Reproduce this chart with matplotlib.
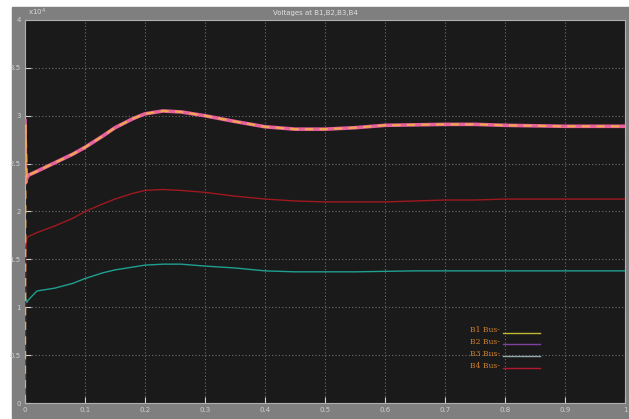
import matplotlib
matplotlib.use("Agg")
import matplotlib.pyplot as plt
from matplotlib.patches import Rectangle

# time (s) and bus voltages (x10^4)
t = [0, 0.001, 0.003, 0.006, 0.02, 0.05, 0.08, 0.1, 0.13, 0.15, 0.18, 0.2, 0.23,
     0.26, 0.3, 0.35, 0.4, 0.45, 0.5, 0.55, 0.6, 0.65, 0.7, 0.75, 0.8, 0.9, 1.0]
b1 = [0, 2.9, 2.35, 2.38, 2.42, 2.51, 2.6, 2.67, 2.79, 2.875, 2.97, 3.02, 3.05,
      3.04, 3.0, 2.94, 2.885, 2.86, 2.86, 2.875, 2.9, 2.905, 2.91, 2.91, 2.9, 2.89, 2.89]
b2 = [2.95, 2.3, 2.35, 2.38, 2.42, 2.51, 2.6, 2.67, 2.79, 2.875, 2.97, 3.02, 3.05,
      3.04, 3.0, 2.94, 2.885, 2.86, 2.86, 2.875, 2.9, 2.905, 2.91, 2.91, 2.9, 2.89, 2.89]
b3 = [1.3, 1.1, 1.05, 1.08, 1.17, 1.2, 1.25, 1.3, 1.36, 1.39, 1.42, 1.44, 1.45,
      1.45, 1.43, 1.41, 1.38, 1.37, 1.37, 1.37, 1.375, 1.38, 1.38, 1.38, 1.38, 1.38, 1.38]
b4 = [0, 1.6, 1.72, 1.74, 1.78, 1.85, 1.93, 2.0, 2.08, 2.13, 2.19, 2.22, 2.23,
      2.22, 2.2, 2.16, 2.13, 2.11, 2.1, 2.1, 2.1, 2.11, 2.12, 2.12, 2.13, 2.13, 2.13]
labels = ["B1 Bus-", "B2 Bus-", "B3 Bus-", "B4 Bus-"]

fig = plt.figure(figsize=(6.29, 4.19), dpi=100, facecolor="white")
fig.patches.append(Rectangle((12 / 629, 0), 617 / 629, 412 / 419,
                             transform=fig.transFigure, color="#7f7f7f", zorder=-10))

ax = fig.add_axes([25 / 629, 16 / 419, 600 / 629, 383 / 419])
ax.set_zorder(5)
ax.set_facecolor("#1a1a1a")

ax.plot(t, b2, color="#e8609c", lw=2.6, zorder=3)
ax.plot(t, b1, color="#f0a850", lw=1.5, ls=(0, (4, 3)), zorder=4)
ax.plot(t, b3, color="#20a090", lw=1.0, zorder=3)
ax.plot(t, b4, color="#a01820", lw=1.0, zorder=3)

ax.set_xlim(0, 1)
ax.set_ylim(0, 4)
ax.set_xticks([0, 0.1, 0.2, 0.3, 0.4, 0.5, 0.6, 0.7, 0.8, 0.9, 1])
ax.set_xticklabels(["0", "0.1", "0.2", "0.3", "0.4", "0.5", "0.6", "0.7", "0.8", "0.9", "1"])
ax.set_yticks([0, 0.5, 1, 1.5, 2, 2.5, 3, 3.5, 4])
ax.set_yticklabels(["0", "0.5", "1", "1.5", "2", "2.5", "3", "3.5", "4"])
ax.grid(True, color="#6e6e6e", ls=(0, (1, 2)), lw=0.8)
ax.tick_params(colors="#d0d0d0", labelsize=5, direction="in", length=4, pad=3)
for s in ax.spines.values():
    s.set_color("#b0b0b0")
    s.set_linewidth(0.8)

fig.text(28 / 629, 1 - 12 / 419, r"x10$^4$", color="#d8d8d8", fontsize=5, va="center")
fig.text(315 / 629, 1 - 13 / 419, "Voltages at B1,B2,B3,B4", color="#e0e0e0",
         fontsize=5, ha="center", va="center")

# legend
leg_colors = ["#c0b830", "#8040a0", "#90a8a8", "#b01830"]
for i, (lab, c) in enumerate(zip(labels, leg_colors)):
    y = 0.19 - i * 0.031
    ax.text(0.742, y, lab, color="#d08030", fontsize=5.5, family="DejaVu Serif",
            transform=ax.transAxes, va="center")
    ax.plot([0.797, 0.858], [y - 0.006, y - 0.006], color=c, lw=1.0,
            transform=ax.transAxes)

fig.savefig("out.png", dpi=100, facecolor=fig.get_facecolor())
